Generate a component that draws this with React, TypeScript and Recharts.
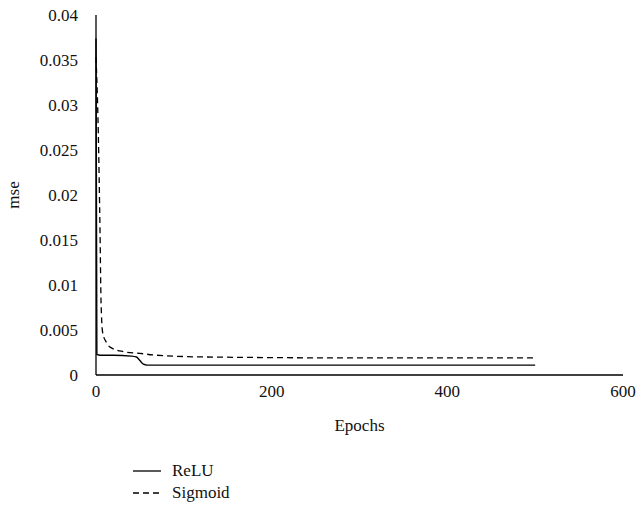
import { LineChart, Line, XAxis, YAxis, Label } from "recharts";

// epochs / mse
const reluEpochs = [0, 1, 5, 20, 40, 46, 50, 54, 58, 100, 300, 500];
const reluMse = [0.0374, 0.0023, 0.0022, 0.0022, 0.0021, 0.002, 0.0016, 0.0012, 0.0011, 0.0011, 0.0011, 0.0011];

const sigmoidEpochs = [0, 2.6, 4.6, 5.7, 7.6, 12, 16, 31, 50, 69, 126, 300, 500];
const sigmoidMse = [0.0353, 0.027, 0.0158, 0.0083, 0.0047, 0.0036, 0.0031, 0.0026, 0.0024, 0.0022, 0.002, 0.0019, 0.0019];

const xTicks = [0, 200, 400, 600];
const yTicks = [0, 0.005, 0.01, 0.015, 0.02, 0.025, 0.03, 0.035, 0.04];

const reluData = reluEpochs.map((e, i) => ({ epoch: e, mse: reluMse[i] }));
const sigmoidData = sigmoidEpochs.map((e, i) => ({ epoch: e, mse: sigmoidMse[i] }));

const font = "'Liberation Serif', serif";
const tick = { fontSize: 17, fill: "#111", fontFamily: font };

function LegendBox() {
  const items = [
    { name: "ReLU", dash: undefined },
    { name: "Sigmoid", dash: "6 4" },
  ];
  return (
    <div style={{ position: "absolute", left: 133, top: 460, fontFamily: font, fontSize: 17, color: "#111" }}>
      {items.map((it) => (
        <div key={it.name} style={{ display: "flex", alignItems: "center", height: 22 }}>
          <svg width={28} height={4} style={{ marginRight: 11 }}>
            <line x1={0} y1={2} x2={28} y2={2} stroke="#000" strokeWidth={1.3} strokeDasharray={it.dash} />
          </svg>
          <span>{it.name}</span>
        </div>
      ))}
    </div>
  );
}

export default function App() {
  return (
    <div style={{ position: "absolute", left: 0, top: 0, width: 639, height: 512, background: "#fff" }}>
      <LineChart width={639} height={512} margin={{ top: 15, right: 16, bottom: 57, left: 0 }}>
        <XAxis
          type="number"
          dataKey="epoch"
          domain={[0, 600]}
          ticks={xTicks}
          tick={tick}
          tickLine={false}
          axisLine={{ stroke: "#000", strokeWidth: 1.3 }}
          tickMargin={4}
          height={80}
        >
          <Label value="Epochs" position="insideTop" offset={44} style={{ fontSize: 17, fill: "#111", fontFamily: font }} />
        </XAxis>
        <YAxis
          type="number"
          domain={[0, 0.04]}
          ticks={yTicks}
          tick={tick}
          tickLine={false}
          axisLine={{ stroke: "#000", strokeWidth: 1.3 }}
          tickMargin={12}
          width={96}
        >
          <Label value="mse" angle={-90} position="insideLeft" offset={13} style={{ fontSize: 17, fill: "#111", fontFamily: font, textAnchor: "middle" }} />
        </YAxis>
        <Line
          data={reluData}
          dataKey="mse"
          type="monotone"
          stroke="#000"
          strokeWidth={1.4}
          dot={false}
          isAnimationActive={false}
        />
        <Line
          data={sigmoidData}
          dataKey="mse"
          type="monotone"
          stroke="#000"
          strokeWidth={1.3}
          strokeDasharray="6 4"
          dot={false}
          isAnimationActive={false}
        />
      </LineChart>
      <LegendBox />
    </div>
  );
}
